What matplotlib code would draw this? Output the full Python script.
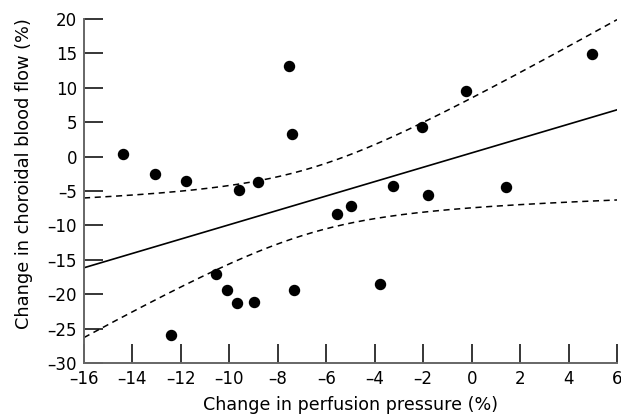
import numpy as np
import matplotlib
matplotlib.use("Agg")
import matplotlib.pyplot as plt

# Data
pressure = [-14.4, -13.05, -11.8, -9.6, -8.8, -7.55, -7.4, -0.25, -2.05, 4.95,
            -3.25, -1.8, 1.4, -5.0, -5.55, -3.8, -10.55, -10.1, -9.7, -9.0,
            -7.35, -12.4]
flow = [0.4, -2.5, -3.5, -4.9, -3.7, 13.2, 3.3, 9.6, 4.35, 14.9,
        -4.2, -5.6, -4.4, -7.2, -8.4, -18.5, -17.1, -19.4, -21.3, -21.2,
        -19.4, -26.0]

x_ticks = [-16, -14, -12, -10, -8, -6, -4, -2, 0, 2, 4, 6]
y_ticks = [-30, -25, -20, -15, -10, -5, 0, 5, 10, 15, 20]

# Fit and 95% confidence band of the regression line
x = np.array(pressure)
y = np.array(flow)
n = len(x)
slope, intercept = np.polyfit(x, y, 1)
resid = y - (slope * x + intercept)
s = np.sqrt(np.sum(resid ** 2) / (n - 2))
sxx = np.sum((x - x.mean()) ** 2)
t = 2.086
xs = np.linspace(-16, 6, 200)
fit = slope * xs + intercept
half = t * s * np.sqrt(1 / n + (xs - x.mean()) ** 2 / sxx)

plt.rcParams['font.family'] = ['DejaVu Sans']
fig = plt.figure(figsize=(6.21, 4.17), dpi=100)
ax = fig.add_axes([0.1353, 0.1295, 0.8583, 0.8249])

ax.plot(xs, fit, color='black', lw=1.2)
ax.plot(xs, fit + half, color='black', lw=1.1, ls=(0, (4, 3)))
ax.plot(xs, fit - half, color='black', lw=1.1, ls=(0, (4, 3)))
ax.scatter(pressure, flow, s=52, color='black', zorder=3)

ax.set_xlim(-16, 6)
ax.set_ylim(-30, 20)
ax.set_xticks(x_ticks)
ax.set_yticks(y_ticks)
ax.set_xticklabels([str(v).replace('-', '\u2013') for v in x_ticks])
ax.set_yticklabels([str(v).replace('-', '\u2013') for v in y_ticks])
ax.tick_params(direction='in', length=14, width=1.1, labelsize=12, colors='black', pad=5)
for sp in ['top', 'right']:
    ax.spines[sp].set_visible(False)
for sp in ['left', 'bottom']:
    ax.spines[sp].set_color('#666666')
    ax.spines[sp].set_linewidth(1.4)

ax.set_xlabel('Change in perfusion pressure (%)', fontsize=12.6, labelpad=6)
ax.set_ylabel('Change in choroidal blood flow (%)', fontsize=12.8)
ax.yaxis.set_label_coords(-0.096, 0.55)

fig.savefig('out.png', dpi=100)
